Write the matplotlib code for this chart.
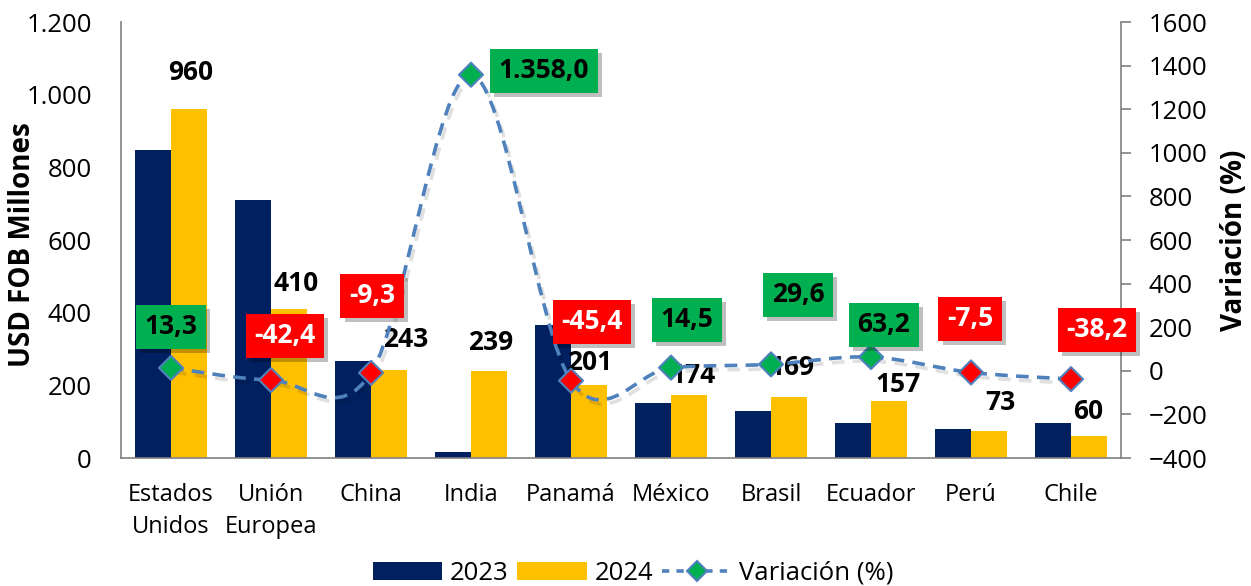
import numpy as np
import matplotlib.pyplot as plt
from matplotlib.path import Path
from matplotlib.patches import PathPatch, Patch
from matplotlib.lines import Line2D
from matplotlib.ticker import FuncFormatter
import matplotlib.patheffects as pe

plt.rcParams['font.family'] = ['Open Sans', 'DejaVu Sans']

# ── data ──────────────────────────────────────────────────────────────────────
paises = ["Estados\nUnidos", "Unión\nEuropea", "China", "India", "Panamá",
          "México", "Brasil", "Ecuador", "Perú", "Chile"]
fob_2023 = [848, 711, 268, 16, 367, 152, 130, 96, 79, 97]
fob_2024 = [960, 410, 243, 239, 201, 174, 169, 157, 73, 60]
variacion = [13.3, -42.4, -9.3, 1358.0, -45.4, 14.5, 29.6, 63.2, -7.5, -38.2]
var_txt = ["13,3", "-42,4", "-9,3", "1.358,0", "-45,4", "14,5", "29,6", "63,2", "-7,5", "-38,2"]

# label placement (x in category units, y in axis units)
bar_lbl_pos = [(0.20, 1060), (1.25, 479), (2.35, 325), (3.20, 319), (4.19, 264),
               (5.22, 226), (6.21, 250), (7.27, 201), (8.29, 154), (9.17, 127)]
var_lbl_pos = [(0.00, 202), (1.14, 160), (2.01, 344), (3.73, 1376), (4.21, 225),
               (5.16, 234), (6.27, 349), (7.13, 211), (7.99, 239), (9.26, 188)]

NAVY = "#002060"
GOLD = "#FFC000"
GREEN = "#00B050"
RED = "#FF0000"
LINE = "#4F81BD"

def smooth_path(xs, ys, k=1/6):
    # Excel-style smoothed line drawn as cubic Bezier segments through the points
    pts = np.column_stack([xs, ys]).astype(float)
    n = len(pts)
    verts, codes = [pts[0]], [Path.MOVETO]
    for i in range(n - 1):
        p0 = pts[max(i - 1, 0)]
        p1 = pts[i]
        p2 = pts[i + 1]
        p3 = pts[min(i + 2, n - 1)]
        verts += [p1 + (p2 - p0) * k, p2 - (p3 - p1) * k, p2]
        codes += [Path.CURVE4] * 3
    return Path(verts, codes)

# ── figure ────────────────────────────────────────────────────────────────────
fig = plt.figure(figsize=(12.51, 5.86), dpi=100)
ax = fig.add_axes([121 / 1251, 128 / 586, 1000 / 1251, 436 / 586])
ax2 = ax.twinx()

x = np.arange(len(paises))
w = 0.36
ax.bar(x - w / 2, fob_2023, w, color=NAVY, zorder=2)
ax.bar(x + w / 2, fob_2024, w, color=GOLD, zorder=2)

for (lx, ly), v in zip(bar_lbl_pos, fob_2024):
    ax.text(lx, ly, str(v), ha="center", va="center", fontsize=19,
            fontweight="bold", color="black", zorder=6)

ax.set_xlim(-0.5, len(paises) - 0.5)
ax.set_ylim(0, 1200)
ax.set_yticks(range(0, 1201, 200))
ax.yaxis.set_major_formatter(FuncFormatter(lambda v, p: f"{int(v):,}".replace(",", ".")))
ax.set_xticks(x)
ax.set_xticklabels(paises, fontsize=17, linespacing=1.45)
ax.tick_params(axis="x", length=0, pad=18)
ax.tick_params(axis="y", length=0, pad=21, labelsize=18.5)
ax.set_ylabel("USD FOB Millones", fontsize=20, fontweight="bold")
ax.yaxis.set_label_coords(-0.084, 0.49)

for s in ["top", "right"]:
    ax.spines[s].set_visible(False)
for s in ["left", "bottom"]:
    ax.spines[s].set_color("#808080")
    ax.spines[s].set_linewidth(1.2)

# ── variation line ────────────────────────────────────────────────────────────
ax2.set_ylim(-400, 1600)
ax2.set_yticks(range(-400, 1601, 200))
ax2.tick_params(axis="y", length=7, width=1.2, color="#808080", pad=13, labelsize=18.5)
for s in ["top", "left", "bottom"]:
    ax2.spines[s].set_visible(False)
ax2.spines["right"].set_color("#808080")
ax2.spines["right"].set_linewidth(1.2)
ax2.set_ylabel("Variación (%)", fontsize=20, fontweight="bold", labelpad=9)

patch = PathPatch(smooth_path(x, variacion), fill=False, edgecolor=LINE, lw=2.6,
                  linestyle=(0, (3.5, 2.3)), zorder=3,
                  path_effects=[pe.SimpleLineShadow(offset=(2, -3), alpha=0.12,
                                                    shadow_color="black"),
                                pe.Normal()])
ax2.add_patch(patch)

cols = [GREEN if v >= 0 else RED for v in variacion]
ax2.scatter(x, variacion, marker="D", s=150, c=cols, edgecolors=LINE,
            linewidths=1.5, zorder=4)

for (lx, ly), t, v in zip(var_lbl_pos, var_txt, variacion):
    bg = GREEN if v >= 0 else RED
    fg = "black" if v >= 0 else "white"
    tx = ax2.text(lx, ly, t, ha="center", va="center", fontsize=19, fontweight="bold",
                  color=fg, zorder=6,
                  bbox=dict(boxstyle="square,pad=0.32", fc=bg, ec="none"))
    tx.get_bbox_patch().set_path_effects(
        [pe.SimplePatchShadow(offset=(3, -3), shadow_rgbFace="black", alpha=0.25),
         pe.Normal()])

# ── legend ────────────────────────────────────────────────────────────────────
handles = [Patch(fc=NAVY), Patch(fc=GOLD),
           Line2D([], [], color=LINE, lw=2.6, ls=(0, (2, 2)), marker="D", ms=10,
                  mfc=GREEN, mec=LINE, mew=1.5)]
fig.legend(handles, ["2023", "2024", "Variación (%)"], loc="lower center",
           bbox_to_anchor=(0.506, -0.03), ncol=3, frameon=False, fontsize=18.5,
           handlelength=2.7, handletextpad=0.3, columnspacing=0.35, borderpad=0.2)

plt.savefig("out.png", dpi=100)
